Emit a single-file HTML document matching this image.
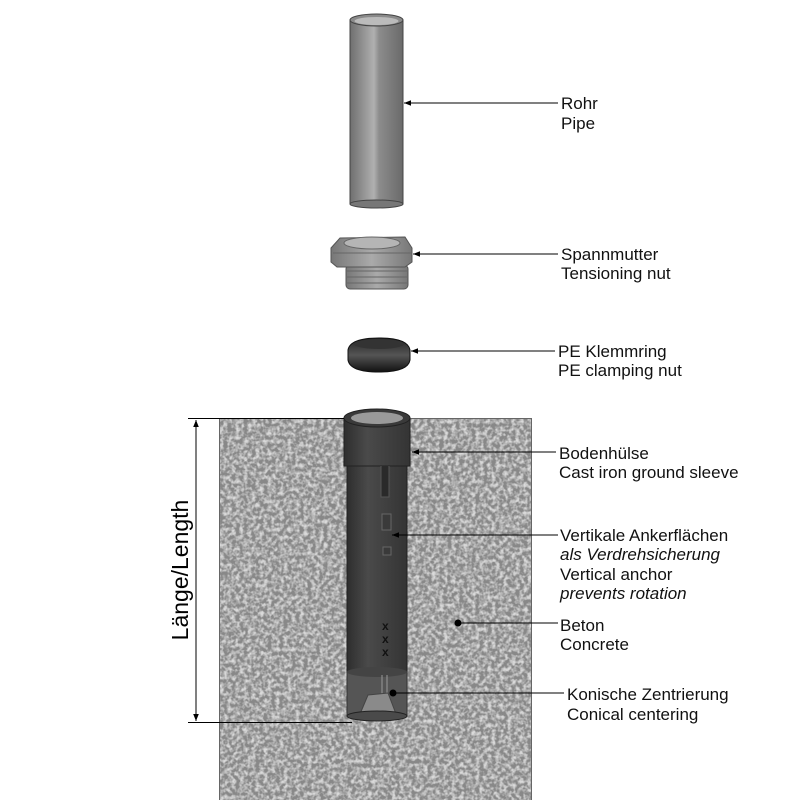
<!DOCTYPE html>
<html><head><meta charset="utf-8"><style>
html,body{margin:0;padding:0;background:#fff;}
svg{display:block;font-family:"Liberation Sans",Arial,sans-serif;}
</style></head><body>
<svg width="800" height="800" viewBox="0 0 800 800" xmlns="http://www.w3.org/2000/svg">
<defs>
<filter id="noise" x="0" y="0" width="100%" height="100%">
<feTurbulence type="fractalNoise" baseFrequency="0.25" numOctaves="3" seed="4" result="t"/>
<feColorMatrix type="matrix" values="0 0 0 0 0  0 0 0 0 0  0 0 0 0 0  0 0 0 -2.6 1.6" in="t" result="a"/>
<feComposite in="SourceGraphic" in2="a" operator="in" result="c"/>
<feFlood flood-color="#888" result="f"/>
<feComposite in="c" in2="f" operator="over"/>
</filter>
<linearGradient id="pipe" x1="0" x2="1">
<stop offset="0" stop-color="#6f6f6f"/><stop offset="0.3" stop-color="#9a9a9a"/><stop offset="0.45" stop-color="#b0b0b0"/><stop offset="0.55" stop-color="#8c8c8c"/><stop offset="1" stop-color="#6a6a6a"/>
</linearGradient>
<linearGradient id="nut" x1="0" x2="1">
<stop offset="0" stop-color="#777"/><stop offset="0.5" stop-color="#aaa"/><stop offset="1" stop-color="#777"/>
</linearGradient>
<linearGradient id="ring" x1="0" x2="0" y1="0" y2="1">
<stop offset="0" stop-color="#222"/><stop offset="0.5" stop-color="#555"/><stop offset="1" stop-color="#111"/>
</linearGradient>
<linearGradient id="sleeve" x1="0" x2="1">
<stop offset="0" stop-color="#2e2e2e"/><stop offset="0.35" stop-color="#4a4a4a"/><stop offset="1" stop-color="#343434"/>
</linearGradient>
<marker id="ar" viewBox="0 0 10 10" refX="10" refY="5" markerWidth="7" markerHeight="7" orient="auto-start-reverse">
<path d="M0,1 L10,5 L0,9 z" fill="#000"/>
</marker>
</defs>

<rect x="219" y="418" width="313" height="382" fill="#dadada" filter="url(#noise)"/>
<rect x="219.5" y="418.5" width="312" height="382" fill="none" stroke="#666" stroke-width="1"/>

<rect x="350" y="20" width="53" height="184" fill="url(#pipe)" stroke="#444" stroke-width="1"/>
<ellipse cx="376.5" cy="204" rx="26.5" ry="4" fill="#777" stroke="#444"/>
<ellipse cx="376.5" cy="20" rx="26.5" ry="6" fill="#8a8a8a" stroke="#444"/>
<ellipse cx="376.5" cy="21" rx="22" ry="4" fill="#bbb"/>

<rect x="346" y="265" width="62" height="24" rx="4" fill="url(#nut)" stroke="#555"/>
<g stroke="#666" stroke-width="1"><line x1="347" y1="271" x2="407" y2="271"/><line x1="347" y1="277" x2="407" y2="277"/><line x1="347" y1="283" x2="407" y2="283"/></g>
<path d="M331,248 L340,238 L405,237 L412,248 L412,262 L405,267 L337,267 L331,262 z" fill="url(#nut)" stroke="#555"/>
<ellipse cx="372" cy="243" rx="28" ry="6" fill="#b5b5b5" stroke="#666"/>
<line x1="333" y1="253" x2="411" y2="253" stroke="#666"/>

<path d="M348,350 Q350,338 379,338 Q408,338 410,350 L410,360 Q408,372 379,372 Q350,372 348,360 z" fill="url(#ring)" stroke="#111"/>
<ellipse cx="379" cy="344" rx="25" ry="5" fill="#333"/>

<rect x="347" y="462" width="60" height="210" fill="url(#sleeve)" stroke="#222"/>
<rect x="344" y="418" width="66" height="48" fill="url(#sleeve)" stroke="#222"/>
<ellipse cx="377" cy="418" rx="33" ry="9" fill="#3a3a3a" stroke="#222"/>
<ellipse cx="377" cy="418" rx="26" ry="6" fill="#9a9a9a"/>
<path d="M381,466 L381,497 L389,497 L389,466" fill="#2a2a2a" stroke="#555"/>
<rect x="382" y="514" width="9" height="16" fill="#3a3a3a" stroke="#666"/>
<rect x="383" y="547" width="8" height="8" fill="#3a3a3a" stroke="#666"/>
<g font-size="12" fill="#111" font-weight="bold"><text x="382" y="630">x</text><text x="382" y="643">x</text><text x="382" y="656">x</text></g>
<rect x="347" y="672" width="60" height="44" fill="#555" stroke="#333"/>
<ellipse cx="377" cy="672" rx="30" ry="5" fill="#444"/>
<line x1="382" y1="675" x2="382" y2="700" stroke="#999"/>
<line x1="387" y1="675" x2="387" y2="700" stroke="#999"/>
<path d="M360,714 L368,695 L388,693 L396,714 z" fill="#8a8a8a" stroke="#444"/>
<ellipse cx="377" cy="716" rx="30" ry="5" fill="#4a4a4a" stroke="#222"/>

<g stroke="#000" stroke-width="1" fill="none">
<line x1="188" y1="418.5" x2="344" y2="418.5"/>
<line x1="188" y1="722.5" x2="352" y2="722.5"/>
<line x1="196" y1="420" x2="196" y2="721" marker-start="url(#ar)" marker-end="url(#ar)"/>
</g>
<text transform="translate(188,570) rotate(-90)" text-anchor="middle" font-size="23" fill="#000">Länge/Length</text>

<g stroke="#000" stroke-width="1" fill="none">
<line x1="558" y1="103" x2="404" y2="103" marker-end="url(#ar)"/>
<line x1="558" y1="254" x2="413" y2="254" marker-end="url(#ar)"/>
<line x1="555" y1="351" x2="411" y2="351" marker-end="url(#ar)"/>
<line x1="556" y1="452" x2="412" y2="452" marker-end="url(#ar)"/>
<line x1="558" y1="535" x2="392" y2="535" marker-end="url(#ar)"/>
<line x1="558" y1="623" x2="458" y2="623"/>
<line x1="564" y1="693" x2="393" y2="693"/>
</g>
<circle cx="458" cy="623" r="3.5" fill="#000"/>
<circle cx="393" cy="693" r="3.5" fill="#000"/>

<g font-size="17" fill="#111">
<text x="561" y="109">Rohr</text><text x="561" y="129">Pipe</text>
<text x="561" y="260">Spannmutter</text><text x="561" y="279">Tensioning nut</text>
<text x="558" y="357">PE Klemmring</text><text x="558" y="376">PE clamping nut</text>
<text x="559" y="459">Bodenhülse</text><text x="559" y="478">Cast iron ground sleeve</text>
<text x="560" y="541">Vertikale Ankerflächen</text>
<text x="560" y="560" font-style="italic">als Verdrehsicherung</text>
<text x="560" y="580">Vertical anchor</text>
<text x="560" y="599" font-style="italic">prevents rotation</text>
<text x="560" y="631">Beton</text><text x="560" y="650">Concrete</text>
<text x="567" y="700">Konische Zentrierung</text><text x="567" y="720">Conical centering</text>
</g>
</svg>
</body></html>
